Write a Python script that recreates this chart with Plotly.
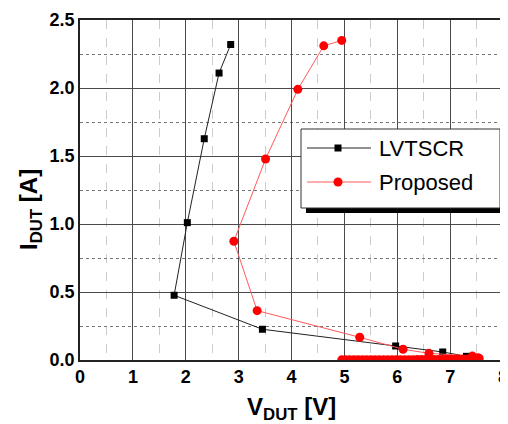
import plotly.graph_objects as go

# LVTSCR (black squares): leakage sweep then snapback branch
lvt_v = [6.30, 6.55, 6.75, 6.95, 7.10, 7.25, 7.31, 6.86, 5.97, 3.45, 1.78, 2.03, 2.35, 2.63, 2.85]
lvt_i = [0.002, 0.003, 0.004, 0.005, 0.007, 0.009, 0.027, 0.059, 0.103, 0.226, 0.476, 1.01, 1.627, 2.11, 2.32]

# Proposed (red circles): leakage sweep then snapback branch
pro_v = [4.95, 5.02, 5.10, 5.18, 5.26, 5.34, 5.42, 5.50, 5.58, 5.66, 5.74, 5.82, 5.90, 5.98,
         6.06, 6.14, 6.22, 6.30, 6.38, 6.46, 6.54, 6.62, 6.70, 6.78, 6.86, 6.94, 7.02, 7.10,
         7.15, 7.25, 7.35, 7.45, 7.52, 7.55, 7.52, 7.42, 6.60, 6.11, 5.29, 3.35, 2.91, 3.51,
         4.12, 4.61, 4.95]
pro_i = [0.001, 0.001, 0.001, 0.001, 0.001, 0.001, 0.001, 0.001, 0.001, 0.001, 0.001, 0.001,
         0.002, 0.002, 0.002, 0.002, 0.002, 0.002, 0.003, 0.003, 0.003, 0.003, 0.004, 0.004,
         0.004, 0.005, 0.005, 0.006, 0.007, 0.007, 0.008, 0.009, 0.010, 0.012, 0.017, 0.029,
         0.049, 0.079, 0.167, 0.363, 0.873, 1.478, 1.99, 2.31, 2.35]

series_names = ["LVTSCR", "Proposed"]
x_ticks = [0, 1, 2, 3, 4, 5, 6, 7, 8]
y_ticks = [0.0, 0.5, 1.0, 1.5, 2.0, 2.5]

FONT = "Liberation Sans, Arial, sans-serif"
OFF = 8  # page body margin in the browser
L, R, T, B = 80, 503, 20, 360  # plot area in window pixels
W, H = 508 - OFF, 424 - OFF


def px(xp):
    return (xp - L) / (R - L)


def py(yp):
    return (B - yp) / (B - T)


fig = go.Figure()
fig.add_trace(go.Scatter(
    x=lvt_v, y=lvt_i, mode="lines+markers", name=series_names[0], showlegend=False,
    line=dict(color="#222222", width=1),
    marker=dict(symbol="square", size=7, color="black"),
))
fig.add_trace(go.Scatter(
    x=pro_v, y=pro_i, mode="lines+markers", name=series_names[1], showlegend=False,
    line=dict(color="#ff5a5a", width=1),
    marker=dict(symbol="circle", size=9, color="#ff0000"),
))

# ---- hand-drawn legend (box with shadow) ----
shapes = [
    dict(type="rect", xref="paper", yref="paper", x0=px(306), x1=px(506), y0=py(213), y1=py(134),
         fillcolor="black", line=dict(width=0), layer="above"),
    dict(type="rect", xref="paper", yref="paper", x0=px(301), x1=px(500), y0=py(208), y1=py(129),
         fillcolor="white", line=dict(color="#333333", width=1), layer="above"),
]
rows = [(148, "#222222", "black", "square"), (182, "#ff5a5a", "#ff0000", "circle")]
for yrow, lc, mc, sym in rows:
    shapes.append(dict(type="line", xref="paper", yref="paper", x0=px(307), x1=px(371),
                       y0=py(yrow), y1=py(yrow), line=dict(color=lc, width=1), layer="above"))
    if sym == "square":
        shapes.append(dict(type="rect", xref="paper", yref="paper", x0=px(334.5), x1=px(341.5),
                           y0=py(yrow + 3.5), y1=py(yrow - 3.5), fillcolor=mc,
                           line=dict(width=0), layer="above"))
    else:
        shapes.append(dict(type="circle", xref="paper", yref="paper", x0=px(333.5), x1=px(342.5),
                           y0=py(yrow + 4.5), y1=py(yrow - 4.5), fillcolor=mc,
                           line=dict(width=0), layer="above"))

annotations = []
for (yrow, _, _, _), name in zip(rows, series_names):
    annotations.append(dict(text=name, xref="paper", yref="paper", x=px(377), y=py(yrow),
                            xanchor="left", yanchor="middle", showarrow=False,
                            font=dict(family=FONT, size=22, color="black")))

# axis titles
annotations.append(dict(text="<b>V<sub>DUT</sub> [V]</b>", xref="paper", yref="paper",
                        x=px(291), y=py(408), xanchor="center", yanchor="middle", showarrow=False,
                        font=dict(family=FONT, size=24, color="black")))
annotations.append(dict(text="<b>I<sub>DUT</sub> [A]</b>", xref="paper", yref="paper",
                        x=px(30), y=py(210), xanchor="center", yanchor="middle", showarrow=False,
                        textangle=-90, font=dict(family=FONT, size=24, color="black")))

tickfont = dict(family=FONT, size=18, color="black")

fig.update_layout(
    width=W, height=H,
    margin=dict(l=L - OFF, r=W - (R - OFF), t=T - OFF, b=H - (B - OFF)),
    paper_bgcolor="white", plot_bgcolor="white",
    font=dict(family=FONT, color="black"),
    showlegend=False,
    shapes=shapes,
    annotations=annotations,
    xaxis=dict(
        range=[0, 8], tickvals=x_ticks, ticktext=[f"<b>{t}</b>" for t in x_ticks],
        tickfont=tickfont, ticks="", showline=True, linecolor="#222222", linewidth=1.5,
        mirror=True, showgrid=True, gridcolor="#4a4a4a", gridwidth=1, zeroline=False,
        automargin=False, ticklabeloverflow="allow",
        minor=dict(dtick=0.5, showgrid=True, gridcolor="#cccccc", griddash="dash", gridwidth=1),
    ),
    yaxis=dict(
        range=[0, 2.5], tickvals=y_ticks, ticktext=[f"<b>{t:.1f}</b>" for t in y_ticks],
        tickfont=tickfont, ticks="", showline=True, linecolor="#222222", linewidth=1.5,
        mirror=True, showgrid=True, gridcolor="#4a4a4a", gridwidth=1, zeroline=False,
        automargin=False, ticklabeloverflow="allow",
        minor=dict(dtick=0.25, showgrid=True, gridcolor="#777777", griddash="dot", gridwidth=1),
    ),
)

fig.write_html("out.html")
